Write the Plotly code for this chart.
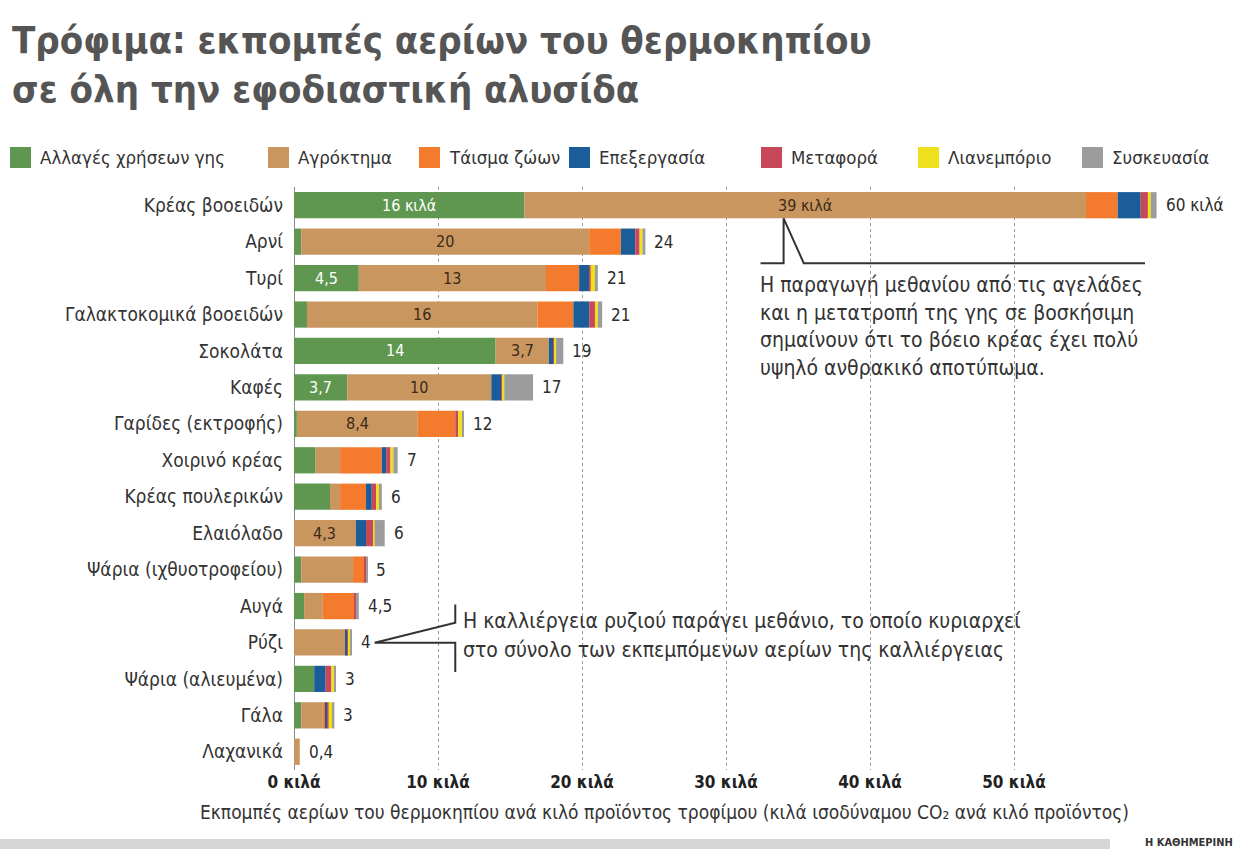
import plotly.graph_objects as go

# Foods, top to bottom
foods = ["Κρέας βοοειδών", "Αρνί", "Τυρί", "Γαλακτοκομικά βοοειδών", "Σοκολάτα", "Καφές",
         "Γαρίδες (εκτροφής)", "Χοιρινό κρέας", "Κρέας πουλερικών", "Ελαιόλαδο",
         "Ψάρια (ιχθυοτροφείου)", "Αυγά", "Ρύζι", "Ψάρια (αλιευμένα)", "Γάλα", "Λαχανικά"]

# kg CO2-eq per kg of product, by supply-chain stage
land_use    = [16, 0.5, 4.5, 0.9, 14, 3.7, 0.2, 1.5, 2.5, -0.4, 0.5, 0.7, 0.0, 1.4, 0.5, 0.0]
farm        = [39, 20, 13, 16, 3.7, 10, 8.4, 1.7, 0.7, 4.3, 3.6, 1.3, 3.6, 0.0, 1.5, 0.4]
animal_feed = [2.2, 2.2, 2.3, 2.5, 0.0, 0.0, 2.6, 2.9, 1.8, 0.0, 0.8, 2.2, 0.0, 0.0, 0.2, 0.0]
processing  = [1.6, 1.0, 0.7, 1.1, 0.3, 0.7, 0.0, 0.3, 0.4, 0.7, 0.0, 0.0, 0.1, 0.8, 0.1, 0.0]
transport   = [0.5, 0.3, 0.1, 0.4, 0.1, 0.1, 0.2, 0.3, 0.3, 0.5, 0.1, 0.1, 0.1, 0.4, 0.1, 0.0]
retail      = [0.2, 0.2, 0.3, 0.2, 0.1, 0.1, 0.3, 0.2, 0.2, 0.1, 0.0, 0.0, 0.1, 0.2, 0.3, 0.0]
packaging   = [0.4, 0.2, 0.2, 0.3, 0.5, 2.0, 0.1, 0.3, 0.2, 0.7, 0.1, 0.2, 0.1, 0.1, 0.1, 0.0]

stage_names = ["Αλλαγές χρήσεων γης", "Αγρόκτημα", "Τάισμα ζώων", "Επεξεργασία",
               "Μεταφορά", "Λιανεμπόριο", "Συσκευασία"]
stage_values = [land_use, farm, animal_feed, processing, transport, retail, packaging]
stage_colors = ["#5f9751", "#c99660", "#f47b2e", "#1b5d98", "#c8475a", "#efe01e", "#9c9c9c"]

# which segments carry an inside value label
label_land = [True, False, True, False, True, True] + [False] * 10
label_farm = [True, True, True, True, True, True, True, False, False, True] + [False] * 6
total_decimals = [0] * 11 + [1, 0, 0, 0, 1]

x_ticks = [0, 10, 20, 30, 40, 50]
x_tick_text = [f"{t} κιλά" for t in x_ticks]

FONT = "DejaVu Sans Condensed, Liberation Sans Narrow, DejaVu Sans, sans-serif"
W, H = 1236, 849
L, R, T, B = 294, 1230, 187, 770


def fmt(v, d=1):
    s = f"{v:.{d}f}"
    if d and s.endswith("0"):
        s = s[:-2]
    return s.replace(".", ",")


def px(x):
    return (x - L) / (R - L)


def py(y):
    return (B - y) / (B - T)


rows = list(range(len(foods)))
fig = go.Figure()
for name, vals, col in zip(stage_names, stage_values, stage_colors):
    fig.add_trace(go.Bar(y=rows, x=vals, orientation="h", name=name, marker_color=col,
                         marker_line_width=0, width=0.72, showlegend=False,
                         hovertemplate="%{x}<extra>" + name + "</extra>"))

annotations = []
# value labels inside the green / tan segments and totals at the bar ends
for i in rows:
    if label_land[i]:
        txt = fmt(land_use[i]) + (" κιλά" if i == 0 else "")
        annotations.append(dict(x=land_use[i] / 2, y=i, xref="x", yref="y", text=txt,
                                showarrow=False, font=dict(color="#ffffff", size=16, family=FONT)))
    if label_farm[i]:
        txt = fmt(farm[i]) + (" κιλά" if i == 0 else "")
        annotations.append(dict(x=max(land_use[i], 0) + farm[i] / 2, y=i, xref="x", yref="y",
                                text=txt, showarrow=False,
                                font=dict(color="#3b2a18", size=16, family=FONT)))
    pos_end = sum(max(v[i], 0) for v in stage_values)
    total = sum(v[i] for v in stage_values)
    txt = fmt(total, total_decimals[i]) + (" κιλά" if i == 0 else "")
    annotations.append(dict(x=pos_end, y=i, xref="x", yref="y", text=txt, showarrow=False,
                            xanchor="left", xshift=7,
                            font=dict(color="#2b2b2b", size=17, family=FONT)))

# title
for ty, line in [(40, "Τρόφιμα: εκπομπές αερίων του θερμοκηπίου"),
                 (89, "σε όλη την εφοδιαστική αλυσίδα")]:
    annotations.append(dict(x=px(10), y=py(ty), xref="paper", yref="paper", xanchor="left",
                            yanchor="middle", showarrow=False, text=f"<b>{line}</b>",
                            font=dict(size=38, color="#555555", family=FONT)))

# legend row
legend_x = [10, 268, 419, 569, 761, 918, 1082]
shapes = []
for lx, name, col in zip(legend_x, stage_names, stage_colors):
    shapes.append(dict(type="rect", xref="paper", yref="paper", x0=px(lx), x1=px(lx + 21),
                       y0=py(168), y1=py(147), fillcolor=col, line_width=0))
    annotations.append(dict(x=px(lx + 28), y=py(157), xref="paper", yref="paper",
                            xanchor="left", yanchor="middle", showarrow=False, text=name,
                            font=dict(size=18.5, color="#333333", family=FONT)))

# beef call-out
shapes.append(dict(type="path", xref="x", yref="y",
                   path="M 32.4,1.59 L 34.0,1.59 L 34.0,0.36 L 35.4,1.59 L 59.1,1.59",
                   line=dict(color="#333333", width=2)))
beef_note = ["Η παραγωγή μεθανίου από τις αγελάδες",
             "και η μετατροπή της γης σε βοσκήσιμη",
             "σημαίνουν ότι το βόειο κρέας έχει πολύ",
             "υψηλό ανθρακικό αποτύπωμα."]
for k, line in enumerate(beef_note):
    annotations.append(dict(x=px(758), y=py(285 + 27.6 * k), xref="paper", yref="paper",
                            xanchor="left", yanchor="middle", showarrow=False, text=line,
                            font=dict(size=21, color="#333333", family=FONT)))

# rice call-out
shapes.append(dict(type="path", xref="x", yref="y",
                   path="M 11.2,10.96 L 11.2,11.46 L 5.6,12.01 L 11.2,12.01 L 11.2,12.81",
                   line=dict(color="#333333", width=2)))
rice_note = ["Η καλλιέργεια ρυζιού παράγει μεθάνιο, το οποίο κυριαρχεί",
             "στο σύνολο των εκπεμπόμενων αερίων της καλλιέργειας"]
for k, line in enumerate(rice_note):
    annotations.append(dict(x=px(461), y=py(621 + 29 * k), xref="paper", yref="paper",
                            xanchor="left", yanchor="middle", showarrow=False, text=line,
                            font=dict(size=21, color="#333333", family=FONT)))

# axis caption
annotations.append(dict(x=px(664), y=py(812), xref="paper", yref="paper", xanchor="center",
                        yanchor="middle", showarrow=False,
                        text="Εκπομπές αερίων του θερμοκηπίου ανά κιλό προϊόντος τροφίμου "
                             "(κιλά ισοδύναμου CO₂ ανά κιλό προϊόντος)",
                        font=dict(size=19, color="#333333", family=FONT)))

# footer band and source
shapes.append(dict(type="rect", xref="paper", yref="paper", x0=px(0), x1=px(1110),
                   y0=py(849), y1=py(839), fillcolor="#d6d6d6", line_width=0))
annotations.append(dict(x=px(1235), y=py(842), xref="paper", yref="paper", xanchor="right",
                        yanchor="middle", showarrow=False, text="<b>Η ΚΑΘΗΜΕΡΙΝΗ</b>",
                        font=dict(size=11, color="#333333", family=FONT)))

fig.update_layout(
    width=W, height=H,
    margin=dict(l=L, r=W - R, t=T, b=H - B, autoexpand=False),
    barmode="relative",
    plot_bgcolor="#ffffff", paper_bgcolor="#ffffff",
    separators=",.",
    font=dict(family=FONT, color="#333333"),
    showlegend=False,
    annotations=annotations,
    shapes=shapes,
    xaxis=dict(range=[0, 65], tickvals=x_ticks, ticktext=x_tick_text, showgrid=True,
               gridcolor="#9a9a9a", griddash="dot", gridwidth=1, zeroline=True,
               zerolinecolor="#8a8a8a", zerolinewidth=1, ticks="", showline=False,
               tickfont=dict(size=17, color="#222222", family=FONT, weight="bold"),
               fixedrange=True),
    yaxis=dict(range=[15.5, -0.5], tickvals=rows, ticktext=foods, showgrid=False,
               zeroline=False, ticks="", ticklabelstandoff=10,
               tickfont=dict(size=19, color="#333333", family=FONT), fixedrange=True),
)

fig.write_html("out.html")
